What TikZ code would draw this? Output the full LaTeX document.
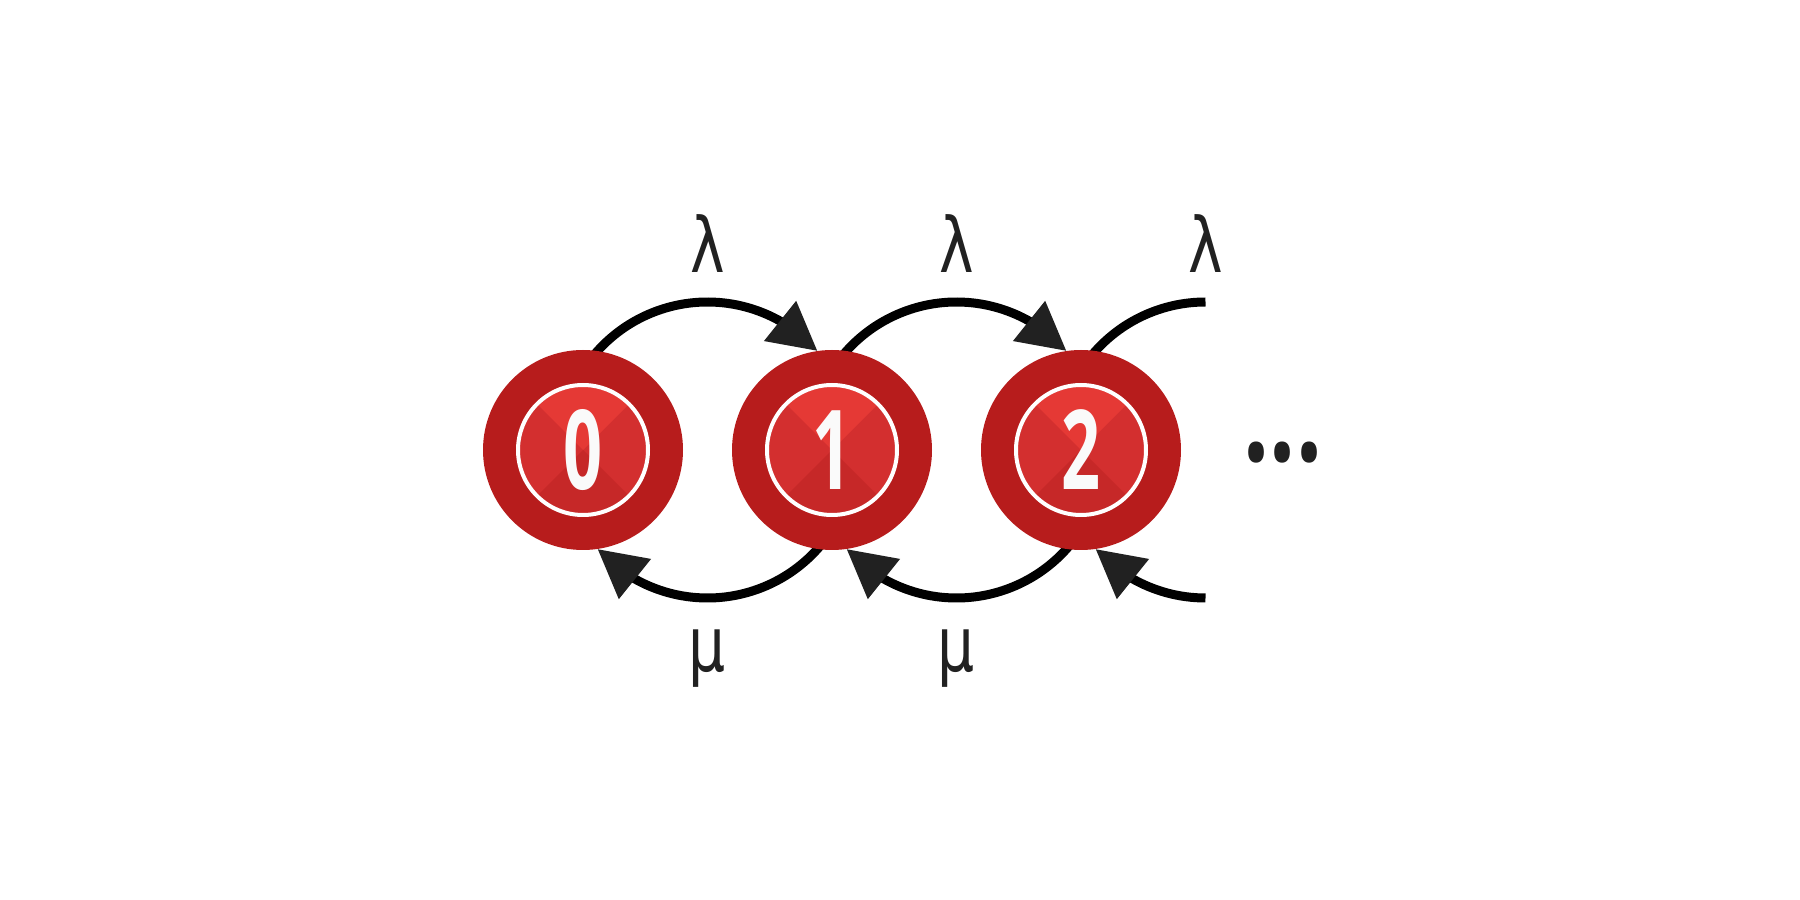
\documentclass[tikz,border=0pt]{standalone}
\usepackage{fontspec}
\setmainfont{DejaVu Sans}
\newfontfamily\condfont{DejaVu Sans Condensed}
\newfontfamily\osfont{Open Sans}
\usetikzlibrary{arrows.meta,bending,calc,backgrounds}
\definecolor{ringred}{HTML}{B71C1C}
\definecolor{qtop}{HTML}{E53935}
\definecolor{qside}{HTML}{D32F2F}
\definecolor{qbot}{HTML}{C62828}
\definecolor{ink}{HTML}{212121}
\definecolor{digit}{HTML}{FAFAFA}
\begin{document}
\begin{tikzpicture}[
  state/.style={circle, fill=ringred, minimum size=2cm, inner sep=0pt, text=digit,
    font=\osfont\bfseries\fontsize{31.4}{32}\selectfont,
    path picture={
      \path (path picture bounding box.center) coordinate (pc);
      \fill[qside] (pc) circle (0.63cm);
      \fill[qtop] (pc) -- ++(45:0.63cm) arc[start angle=45,end angle=135,radius=0.63cm] -- cycle;
      \fill[qbot] (pc) -- ++(225:0.63cm) arc[start angle=225,end angle=315,radius=0.63cm] -- cycle;
      \draw[white, line width=0.04cm] (pc) circle (0.65cm);
    }},
  flow/.style={line width=0.09cm, draw=black,
    -{Triangle[length=0.48cm,width=0.49cm,color=ink,fill=ink,flex]}},
  plainarc/.style={line width=0.09cm, draw=black},
  rate/.style={text=ink, font=\condfont\fontsize{21.7}{22}\selectfont, anchor=base, inner sep=0pt},
  dotsstyle/.style={text=ink, font=\osfont\bfseries\fontsize{26}{27}\selectfont, anchor=base, inner sep=0pt}
]
\useasboundingbox (0,0) rectangle (18,9);

\node[state] (n0) at (5.83,4.5) {\scalebox{0.62}[1]{0}};
\node[state] (n1) at (8.32,4.5) {\scalebox{0.62}[1]{1}};
\node[state] (n2) at (10.81,4.5) {\scalebox{0.62}[1]{2}};

\node[dotsstyle] (dots) at (12.83,4.39) {\scalebox{1}[1.4]{...}};

\node[rate] (l1) at (7.075,6.27) {\scalebox{0.85}[1]{λ}};
\node[rate] (l2) at (9.565,6.27) {\scalebox{0.85}[1]{λ}};
\node[rate] (l3) at (12.055,6.27) {\scalebox{0.85}[1]{λ}};
\node[rate] (m1) at (7.075,2.28) {\scalebox{0.85}[1]{μ}};
\node[rate] (m2) at (9.565,2.28) {\scalebox{0.85}[1]{μ}};

\begin{scope}[on background layer]
  \fill[white] (0,0) rectangle (18,9);
  % lambda transitions (top)
  \draw[flow] ($(n0)!0.5!(n1)+(140:1.48)$) arc[start angle=140,end angle=42,radius=1.48cm];
  \draw[flow] ($(n1)!0.5!(n2)+(140:1.48)$) arc[start angle=140,end angle=42,radius=1.48cm];
  \draw[plainarc] ($(n2)+(1.245,0)+(140:1.48)$) arc[start angle=140,end angle=90,radius=1.48cm];
  % mu transitions (bottom)
  \draw[flow] ($(n0)!0.5!(n1)+(-40:1.48)$) arc[start angle=-40,end angle=-138,radius=1.48cm];
  \draw[flow] ($(n1)!0.5!(n2)+(-40:1.48)$) arc[start angle=-40,end angle=-138,radius=1.48cm];
  \draw[flow] ($(n2)+(1.245,0)+(-90:1.48)$) arc[start angle=-90,end angle=-138,radius=1.48cm];
\end{scope}
\end{tikzpicture}
\end{document}
